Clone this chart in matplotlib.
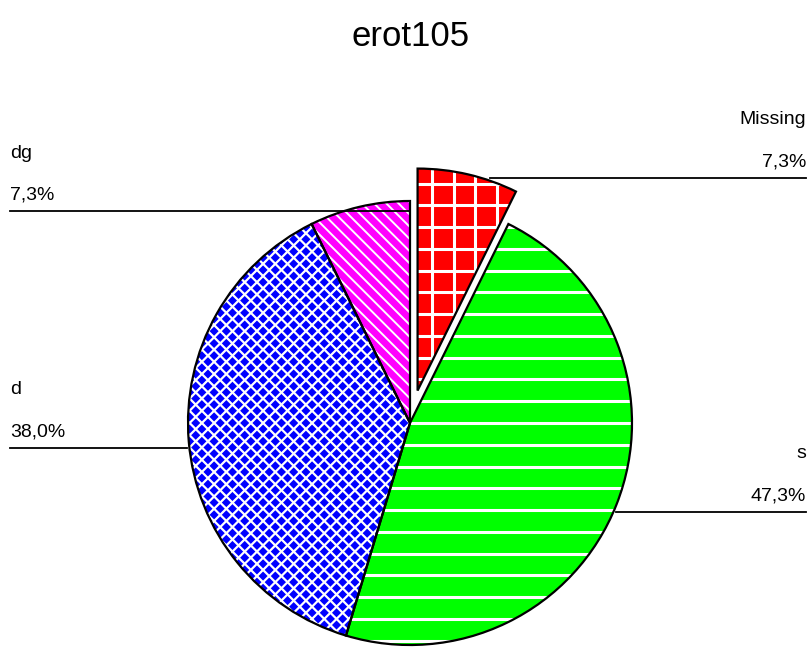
import numpy as np
import matplotlib
matplotlib.use("Agg")
import matplotlib.pyplot as plt
from matplotlib.patches import Wedge
from matplotlib.collections import LineCollection

plt.rcParams['font.family'] = ['Liberation Sans', 'DejaVu Sans']

title = "erot105"
labels = ['Missing', 's', 'd', 'dg']
values = [7.3, 47.3, 38.0, 7.3]
pct_labels = ['7,3%', '47,3%', '38,0%', '7,3%']
colors = ['#ff0000', '#00ff00', '#0000ff', '#ff00ff']
explode = [0.15, 0, 0, 0]

# hatch per slice: (angles in degrees, spacing in radius units, line width)
hatches = [([0, 90], 0.098, 2.2),
           ([0], 0.098, 2.2),
           ([45, -45], 0.039, 1.6),
           ([-45], 0.039, 1.4)]

W, H = 811, 652
R = 222.0            # pie radius in pixels
cx, cy = 410, 423    # pie centre in pixels (from top)

fig = plt.figure(figsize=(W / 100, H / 100), dpi=100)
ax = fig.add_axes([0, 0, 1, 1])

wedges, _ = ax.pie(values, colors=colors, startangle=90, counterclock=False,
                   explode=explode, wedgeprops=dict(linewidth=0))
ax.set_xlim(-cx / R, (W - cx) / R)
ax.set_ylim(-(H - cy) / R, cy / R)
ax.axis('off')


def hatch_lines(wedge, angles, step, lw):
    for a in angles:
        t = np.radians(a)
        d = np.array([np.cos(t), np.sin(t)])
        n = np.array([-np.sin(t), np.cos(t)])
        segs = []
        for k in np.arange(-40, 41):
            p = k * step * n
            segs.append([p - 3 * d, p + 3 * d])
        lc = LineCollection(segs, colors='white', linewidths=lw, zorder=2)
        ax.add_collection(lc)
        lc.set_clip_path(wedge)


for w, (angs, step, lw) in zip(wedges, hatches):
    hatch_lines(w, angs, step, lw)
    ax.add_patch(Wedge(w.center, w.r, w.theta1, w.theta2, fill=False,
                       edgecolor='black', linewidth=1.6, zorder=3))


def px(x, y):
    return (x - cx) / R, (cy - y) / R


# leader lines: (start px, end px, label side)
leaders = {
    'Missing': ((490, 178), (806, 178), 'right'),
    's': ((616, 512), (806, 512), 'right'),
    'd': ((10, 448), (187, 448), 'left'),
    'dg': ((10, 211), (410, 211), 'left'),
}

for lab, pct in zip(labels, pct_labels):
    (x0, y0), (x1, y1), side = leaders[lab]
    p0, p1 = px(x0, y0), px(x1, y1)
    ax.plot([p0[0], p1[0]], [p0[1], p1[1]], color='black', lw=1.3, zorder=4)
    if side == 'left':
        tx, ha = 10, 'left'
    else:
        tx, ha = 806, 'right'
    fig.text(tx / W, 1 - (y0 - 16) / H, pct, ha=ha, va='center', fontsize=14)
    fig.text(tx / W, 1 - (y0 - 58) / H, lab, ha=ha, va='center', fontsize=14)

fig.text(411 / W, 1 - 36 / H, title, ha='center', va='center', fontsize=25)

fig.savefig('out.png', dpi=100)
